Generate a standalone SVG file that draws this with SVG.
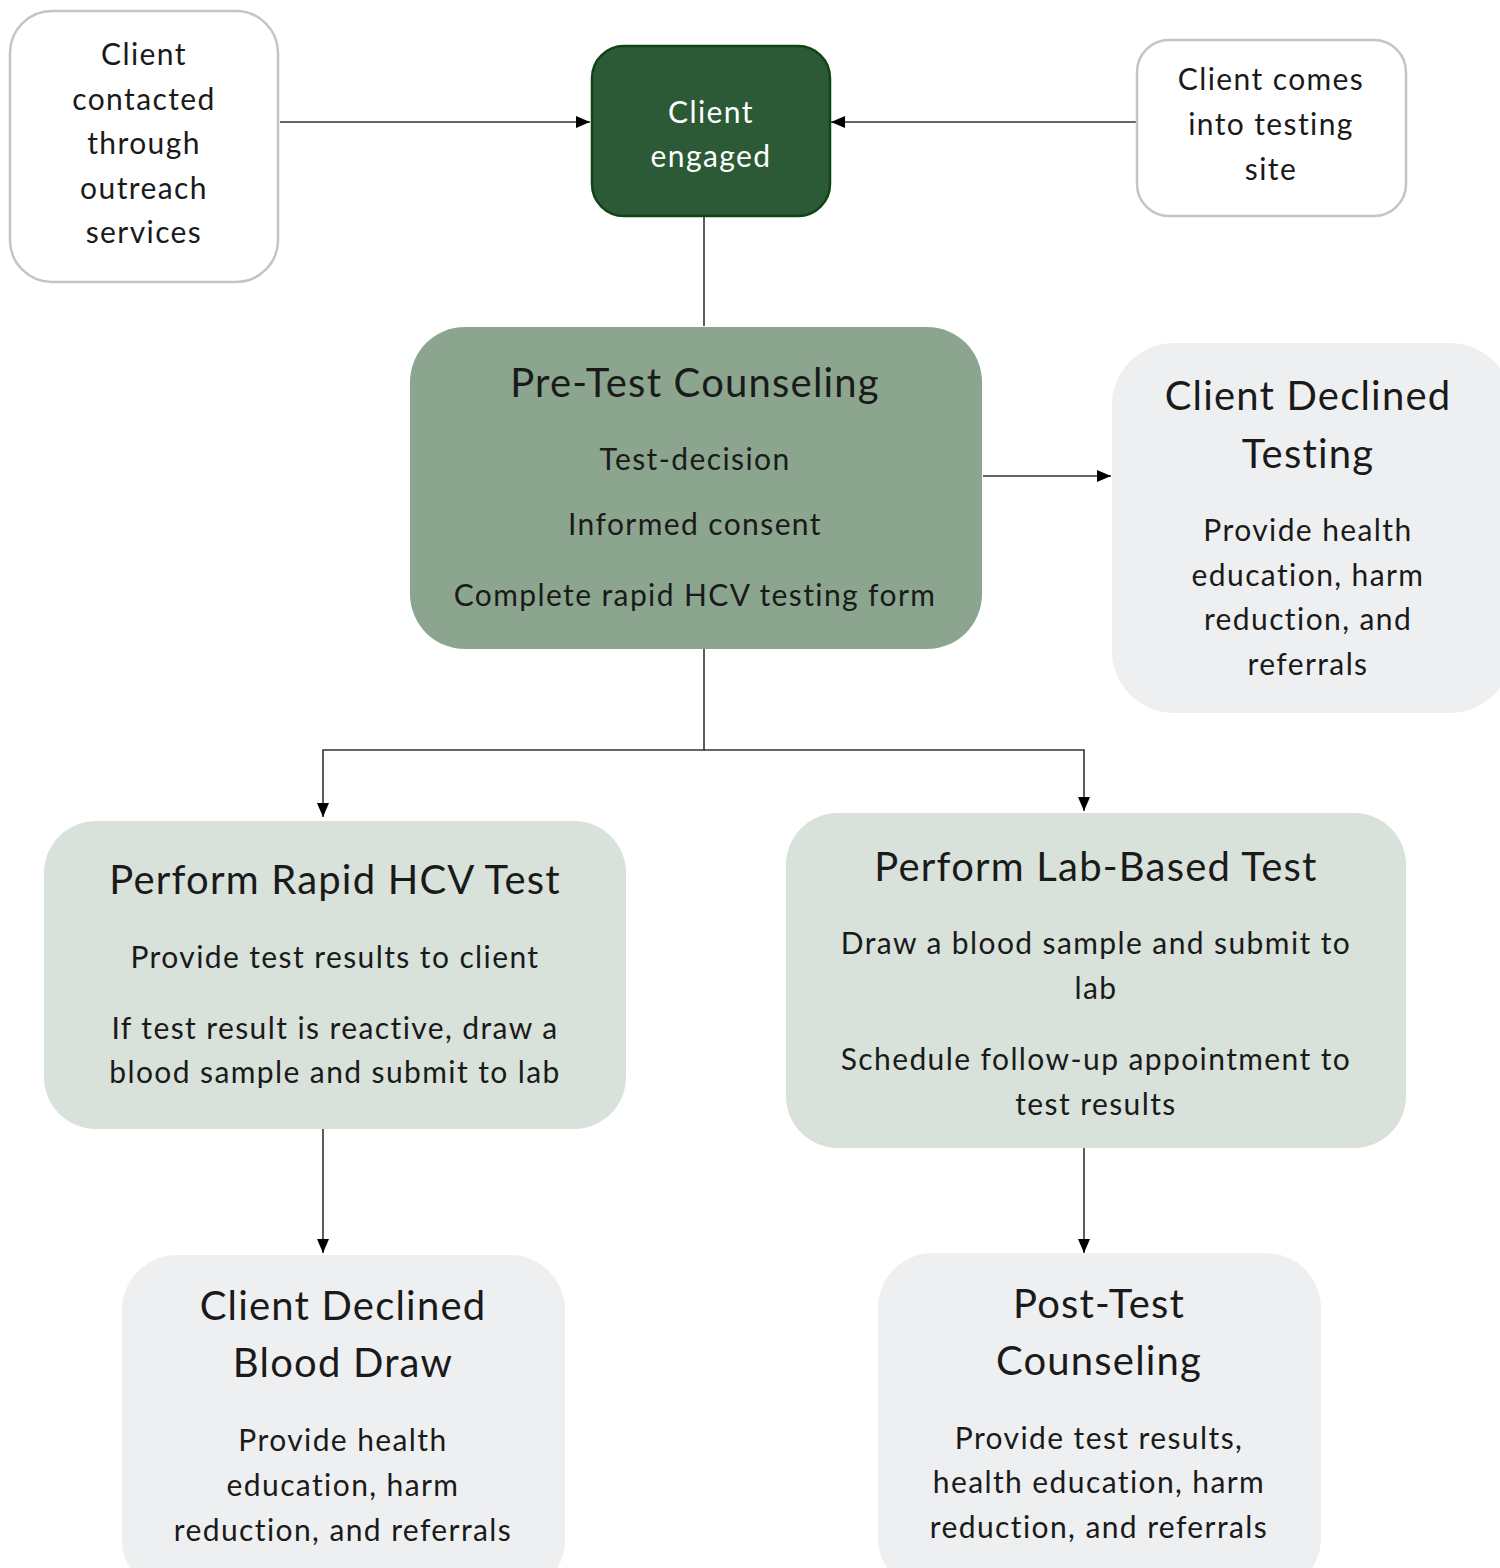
<svg xmlns="http://www.w3.org/2000/svg" width="1500" height="1568" viewBox="0 0 1500 1568">
<style>
text{font-family:Lato,"Open Sans","Liberation Sans",sans-serif;text-anchor:middle;fill:#1a1a1a}
.b{font-size:30px;letter-spacing:1.4px}
.t{font-size:40px;letter-spacing:1.2px}
.w{fill:#ffffff}
.out{fill:#ffffff;stroke:#c4c4c4;stroke-width:2.5}
.dark{fill:#2d5a36;stroke:#0f4414;stroke-width:2.5}
.mid{fill:#8ba58e}
.light{fill:#d8e1da}
.pale{fill:#eeeff1}
.c{stroke:#333;stroke-width:1.6;fill:none}
</style>
<defs>
<marker id="ah" markerWidth="14" markerHeight="12" refX="14" refY="6" orient="auto" markerUnits="userSpaceOnUse">
<path d="M0,0 L14,6 L0,12 Z" fill="#000"/>
</marker>
</defs>
<rect width="1500" height="1568" fill="#fff"/>
<g id="connectors">
<line class="c" x1="280" y1="122" x2="590" y2="122" marker-end="url(#ah)"/>
<line class="c" x1="1138" y1="122" x2="831" y2="122" marker-end="url(#ah)"/>
<line class="c" x1="704" y1="212" x2="704" y2="326"/>
<line class="c" x1="983" y1="476" x2="1111" y2="476" marker-end="url(#ah)"/>
<polyline class="c" points="704,634 704,750 323,750 323,817" marker-end="url(#ah)"/>
<polyline class="c" points="704,750 1084,750 1084,811" marker-end="url(#ah)"/>
<line class="c" x1="323" y1="1129" x2="323" y2="1253" marker-end="url(#ah)"/>
<line class="c" x1="1084" y1="1134" x2="1084" y2="1253" marker-end="url(#ah)"/>
</g>
<g id="node-outreach">
<rect class="out" x="10" y="11" width="268" height="271" rx="42"/>
<text class="b" x="144" y="65">Client</text>
<text class="b" x="144" y="110">contacted</text>
<text class="b" x="144" y="154">through</text>
<text class="b" x="144" y="199">outreach</text>
<text class="b" x="144" y="243">services</text>
</g>
<g id="node-engaged">
<rect class="dark" x="592" y="46" width="238" height="170" rx="32"/>
<text class="b w" x="711" y="123">Client</text>
<text class="b w" x="711" y="167">engaged</text>
</g>
<g id="node-site">
<rect class="out" x="1137" y="40" width="269" height="176" rx="32"/>
<text class="b" x="1271" y="90">Client comes</text>
<text class="b" x="1271" y="135">into testing</text>
<text class="b" x="1271" y="180">site</text>
</g>
<g id="node-pretest">
<rect class="mid" x="410" y="327" width="572" height="322" rx="55"/>
<text class="t" x="695" y="397">Pre-Test Counseling</text>
<text class="b" x="695" y="470">Test-decision</text>
<text class="b" x="695" y="535">Informed consent</text>
<text class="b" x="695" y="606">Complete rapid HCV testing form</text>
</g>
<g id="node-declined-testing">
<rect class="pale" x="1112" y="343" width="400" height="370" rx="62"/>
<text class="t" x="1308" y="410">Client Declined</text>
<text class="t" x="1308" y="468">Testing</text>
<text class="b" x="1308" y="541">Provide health</text>
<text class="b" x="1308" y="586">education, harm</text>
<text class="b" x="1308" y="630">reduction, and</text>
<text class="b" x="1308" y="675">referrals</text>
</g>
<g id="node-rapid">
<rect class="light" x="44" y="821" width="582" height="308" rx="52"/>
<text class="t" x="335" y="894">Perform Rapid HCV Test</text>
<text class="b" x="335" y="968">Provide test results to client</text>
<text class="b" x="335" y="1039">If test result is reactive, draw a</text>
<text class="b" x="335" y="1083">blood sample and submit to lab</text>
</g>
<g id="node-lab">
<rect class="light" x="786" y="813" width="620" height="335" rx="52"/>
<text class="t" x="1096" y="881">Perform Lab-Based Test</text>
<text class="b" x="1096" y="954">Draw a blood sample and submit to</text>
<text class="b" x="1096" y="999">lab</text>
<text class="b" x="1096" y="1070">Schedule follow-up appointment to</text>
<text class="b" x="1096" y="1115">test results</text>
</g>
<g id="node-declined-blood">
<rect class="pale" x="122" y="1255" width="443" height="340" rx="55"/>
<text class="t" x="343" y="1320">Client Declined</text>
<text class="t" x="343" y="1377">Blood Draw</text>
<text class="b" x="343" y="1451">Provide health</text>
<text class="b" x="343" y="1496">education, harm</text>
<text class="b" x="343" y="1541">reduction, and referrals</text>
</g>
<g id="node-posttest">
<rect class="pale" x="878" y="1253" width="443" height="340" rx="55"/>
<text class="t" x="1099" y="1318">Post-Test</text>
<text class="t" x="1099" y="1375">Counseling</text>
<text class="b" x="1099" y="1449">Provide test results,</text>
<text class="b" x="1099" y="1493">health education, harm</text>
<text class="b" x="1099" y="1538">reduction, and referrals</text>
</g>
</svg>
